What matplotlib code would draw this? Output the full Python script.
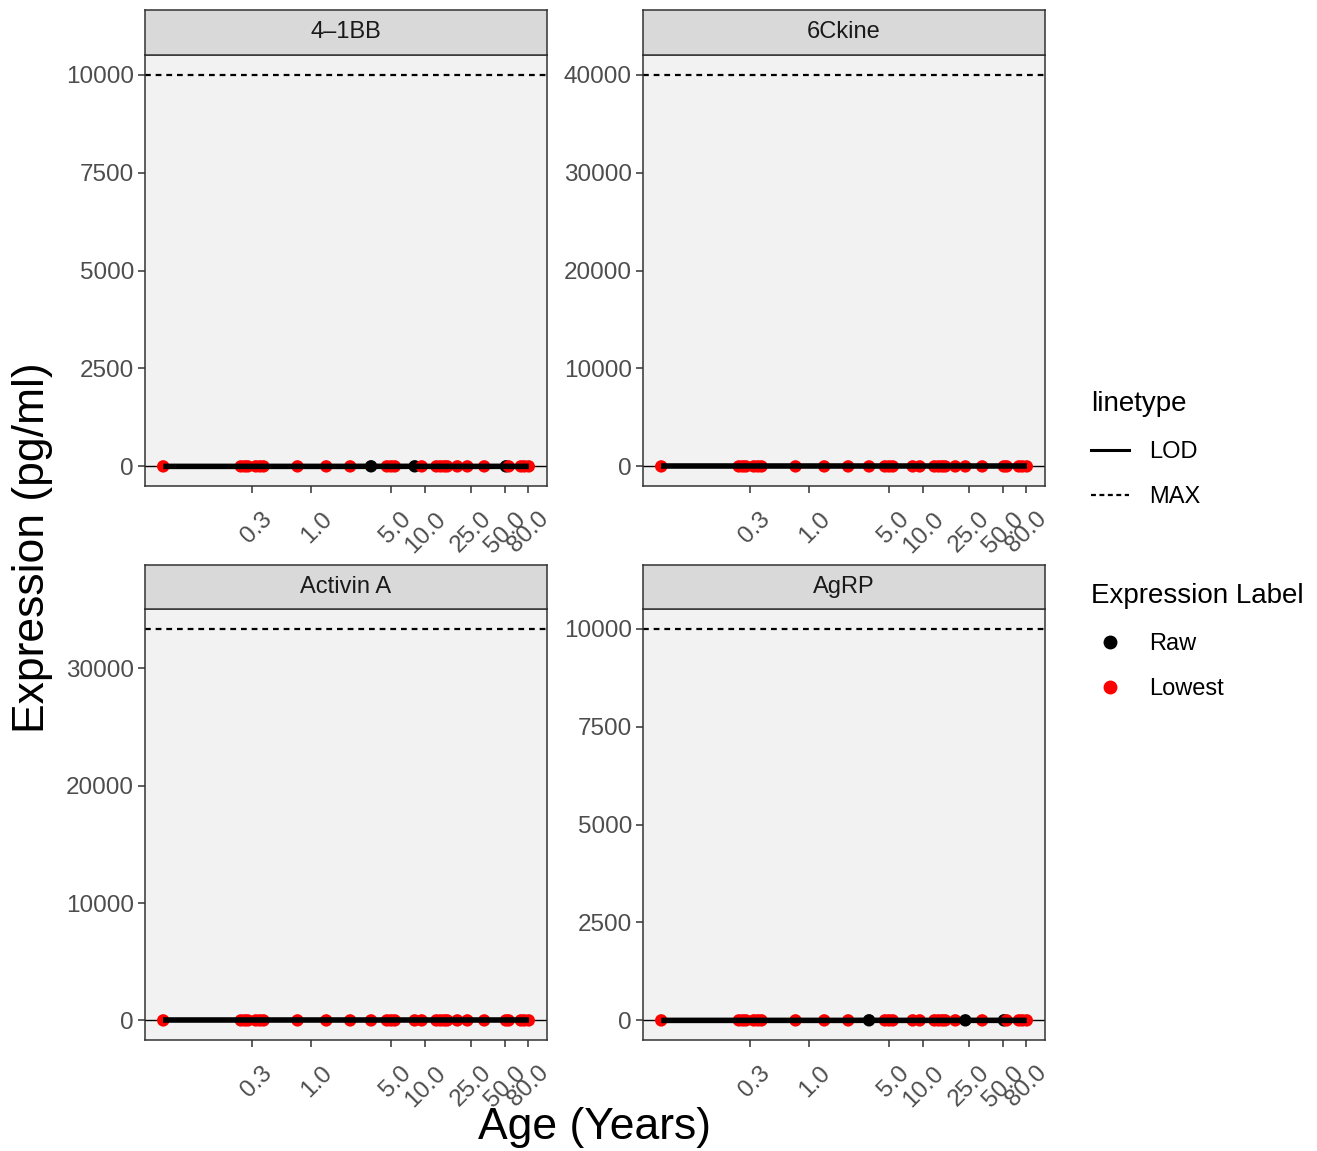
import matplotlib
matplotlib.use("Agg")
import matplotlib.pyplot as plt
from matplotlib.lines import Line2D
from matplotlib.transforms import ScaledTranslation

plt.rcParams['font.family'] = ['Liberation Sans', 'DejaVu Sans']

# ages of the samples (years), shared by all analytes
ages = [0.05, 0.24, 0.26, 0.277, 0.325, 0.353, 0.38, 0.755, 1.35, 2.19, 3.34,
        4.6, 5.0, 5.4, 8.07, 9.3, 12.5, 13.6, 14.7, 15.6, 19.1, 23.4, 32.9,
        51.0, 54.0, 69.0, 74.0, 81.0]

analytes = ['4\u20131BB', '6Ckine', 'Activin A', 'AgRP']
max_values = [10000, 40000, 33400, 10000]
lod_values = [0, 0, 0, 0]
y_ticks = [[0, 2500, 5000, 7500, 10000],
           [0, 10000, 20000, 30000, 40000],
           [0, 10000, 20000, 30000],
           [0, 2500, 5000, 7500, 10000]]

# expression values (pg/ml), all close to the LOD
expr = [
    [1, 1, 1, 1, 1, 1, 1, 1, 1, 1, 3, 1, 1, 1, 3, 1, 1, 1, 1, 1, 1, 1, 1, 2, 1, 1, 1, 1],
    [1] * 28,
    [1] * 28,
    [1, 1, 1, 1, 1, 1, 1, 1, 1, 1, 3, 1, 1, 1, 1, 1, 1, 1, 1, 1, 1, 2, 1, 2, 1, 1, 1, 1],
]
# 1 = Raw, 0 = Lowest
is_raw = [
    [0, 0, 0, 0, 0, 0, 0, 0, 0, 0, 1, 0, 0, 0, 1, 0, 0, 0, 0, 0, 0, 0, 0, 1, 0, 0, 0, 0],
    [0] * 28,
    [0] * 28,
    [0, 0, 0, 0, 0, 0, 0, 0, 0, 0, 1, 0, 0, 0, 0, 0, 0, 0, 0, 0, 0, 1, 0, 1, 0, 0, 0, 0],
]

x_ticks = [0.3, 1.0, 5.0, 10.0, 25.0, 50.0, 80.0]

W, H = 1317, 1151
fig = plt.figure(figsize=(W / 100, H / 100), dpi=100)

# panel boxes in pixels: left, right, strip top, panel top, panel bottom
boxes = [(145, 547, 10, 55, 486), (643, 1045, 10, 55, 486),
         (145, 547, 565, 609, 1040), (643, 1045, 565, 609, 1040)]

edge = '#333333'
for i, (l, r, st, pt, pb) in enumerate(boxes):
    ax = fig.add_axes([l / W, 1 - pb / H, (r - l) / W, (pb - pt) / H])
    ax.set_facecolor('#F2F2F2')
    for s in ax.spines.values():
        s.set_color(edge)
        s.set_linewidth(1.1)

    cols = ['black' if f else 'red' for f in is_raw[i]]
    ax.scatter(ages, expr[i], c=cols, s=80, zorder=3, linewidths=0)
    ax.plot(ages, expr[i], color='black', lw=4.0, zorder=4, solid_capstyle='butt')
    ax.axhline(lod_values[i], color='black', lw=1.0, zorder=2)
    ax.axhline(max_values[i], color='black', lw=1.6, dashes=(2.6, 2.2), zorder=2)

    ax.set_xscale('log')
    ax.set_xlim(0.05 / 10 ** 0.16, 81.0 * 10 ** 0.16)
    ax.set_ylim(-0.05 * max_values[i], 1.05 * max_values[i])
    ax.minorticks_off()
    ax.set_xticks(x_ticks)
    ax.set_xticklabels(['%.1f' % v for v in x_ticks])
    ax.set_yticks(y_ticks[i])
    ax.set_yticklabels([str(v) for v in y_ticks[i]])
    ax.tick_params(colors=edge, labelcolor='#4D4D4D', labelsize=17.5, length=5, width=1.1)
    ax.tick_params(axis='y', pad=3)
    ax.tick_params(axis='x', pad=2)
    for lab in ax.get_xticklabels():
        lab.set_rotation(45)
        lab.set_ha('right')
        lab.set_va('center')
        lab.set_rotation_mode('anchor')
        lab.set_transform(lab.get_transform() + ScaledTranslation(0.17, -0.2, fig.dpi_scale_trans))

    # strip
    sax = fig.add_axes([l / W, 1 - pt / H, (r - l) / W, (pt - st) / H])
    sax.set_facecolor('#D9D9D9')
    sax.set_xticks([])
    sax.set_yticks([])
    for s in sax.spines.values():
        s.set_color(edge)
        s.set_linewidth(1.1)
    sax.text(0.5, 0.5, analytes[i], ha='center', va='center', fontsize=17,
             color='#1A1A1A', transform=sax.transAxes)

fig.text(595 / W, 1 - 1128 / H, 'Age (Years)', ha='center', va='center', fontsize=32)
fig.text(33 / W, 1 - 548 / H, 'Expression (pg/ml)', ha='center', va='center',
         rotation=90, fontsize=32)

# legends
lt_handles = [Line2D([], [], color='black', lw=2.2),
              Line2D([], [], color='black', lw=1.6, dashes=(2.2, 1.6))]
leg1 = fig.legend(lt_handles, ['LOD', 'MAX'], title='linetype', loc='upper left',
                  bbox_to_anchor=(1070 / W, 1 - 370 / H), frameon=False, fontsize=17,
                  title_fontsize=20, handlelength=1.6, handletextpad=0.85,
                  labelspacing=1.0, alignment='left')

pt_handles = [Line2D([], [], marker='o', ls='', color='black', markersize=9),
              Line2D([], [], marker='o', ls='', color='red', markersize=9)]
leg2 = fig.legend(pt_handles, ['Raw', 'Lowest'], title='Expression Label',
                  loc='upper left', bbox_to_anchor=(1070 / W, 1 - 562 / H),
                  frameon=False, fontsize=17, title_fontsize=20, handlelength=1.6,
                  handletextpad=0.85, labelspacing=1.0, alignment='left')

fig.savefig('out.png', dpi=100)
